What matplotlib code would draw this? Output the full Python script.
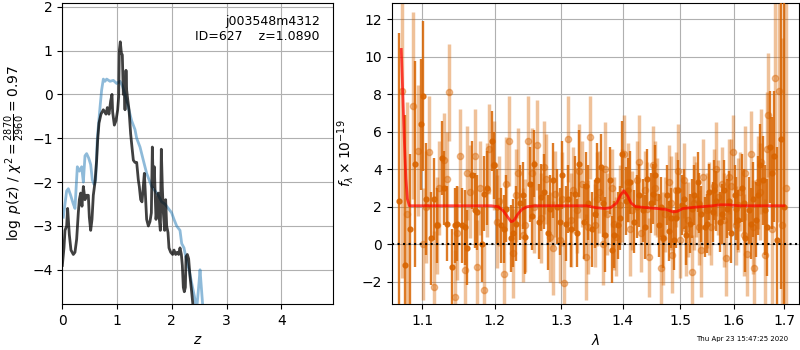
import numpy as np
import matplotlib
matplotlib.use('Agg')
import matplotlib.pyplot as plt
from matplotlib.ticker import NullLocator, NullFormatter, FixedLocator, FixedFormatter

# p(z) curves
z_prior = [0.018, 0.079, 0.110, 0.152, 0.201, 0.231, 0.274, 0.311, 0.353, 0.384,
           0.414, 0.444, 0.481, 0.518, 0.548, 0.578, 0.609, 0.639, 0.688, 0.718,
           0.749, 0.779, 0.810, 0.871, 0.932, 0.992, 1.053, 1.096, 1.145, 1.205,
           1.266, 1.327, 1.358, 1.419, 1.479, 1.540, 1.601, 1.632, 1.693, 1.753,
           1.814, 1.875, 1.936, 1.997, 2.040, 2.088, 2.149, 2.180, 2.222, 2.271,
           2.314, 2.362, 2.411, 2.454, 2.496, 2.515, 2.545, 2.575]
lnp_prior = [-2.8, -2.2, -2.15, -2.3, -2.5, -2.6, -1.65, -1.75, -1.65, -2.0,
             -1.4, -1.35, -1.45, -1.6, -1.95, -2.05, -1.95, -1.0, -0.3, 0.1,
             0.35, 0.3, 0.35, 0.3, 0.32, 0.25, 0.3, 0.2, 0.0, -0.3,
             -0.6, -0.8, -1.0, -1.2, -1.5, -1.8, -2.0, -2.1, -2.2, -2.3,
             -2.45, -2.5, -2.6, -2.7, -2.85, -3.0, -3.1, -3.4, -3.5, -3.8,
             -4.0, -4.3, -4.6, -4.9, -4.3, -4.0, -4.5, -5.0]

z_fit = [0.000, 0.030, 0.049, 0.079, 0.097, 0.128, 0.158, 0.201, 0.231, 0.262,
         0.292, 0.311, 0.335, 0.359, 0.384, 0.414, 0.444, 0.475, 0.493, 0.518,
         0.542, 0.566, 0.597, 0.627, 0.645, 0.670, 0.706, 0.749, 0.798, 0.822,
         0.852, 0.883, 0.907, 0.919, 0.950, 0.980, 1.011, 1.029, 1.041, 1.059,
         1.078, 1.096, 1.114, 1.126, 1.145, 1.163, 1.175, 1.193, 1.218, 1.248,
         1.272, 1.297, 1.327, 1.358, 1.388, 1.406, 1.431, 1.455, 1.479, 1.498,
         1.516, 1.540, 1.571, 1.601, 1.626, 1.644, 1.662, 1.680, 1.699, 1.711,
         1.735, 1.753, 1.772, 1.790, 1.808, 1.826, 1.845, 1.869, 1.887, 1.906,
         1.930, 1.948, 1.979, 2.015, 2.040, 2.070, 2.100, 2.125, 2.149, 2.174,
         2.192, 2.210, 2.228, 2.247, 2.259, 2.283, 2.307, 2.332, 2.362, 2.393]
lnp_fit = [-3.9, -3.5, -3.1, -3.0, -2.6, -3.2, -3.55, -3.65, -3.6, -3.3,
           -2.7, -2.4, -2.25, -2.55, -2.1, -2.4, -2.3, -2.3, -2.8, -3.1,
           -2.85, -2.3, -2.0, -1.5, -1.05, -0.65, -0.45, -0.35, -0.45, -0.3,
           -0.45, -0.15, 0.0, -0.4, -0.7, -0.6, -0.35, -0.05, 1.0, 1.2,
           0.95, 0.9, 0.0, 0.3, -0.35, 0.55, 0.1, -0.1, -0.35, -0.9,
           -1.2, -1.5, -1.55, -1.55, -1.95, -2.1, -2.4, -2.45, -2.1, -1.8,
           -2.25, -2.85, -3.0, -2.9, -2.7, -1.2, -2.1, -1.65, -2.4, -2.85,
           -2.55, -2.25, -2.85, -3.1, -1.25, -2.1, -2.7, -3.1, -2.4, -3.0,
           -3.15, -3.5, -3.6, -3.65, -3.55, -3.65, -3.6, -3.65, -3.5, -3.65,
           -3.9, -4.4, -4.5, -4.4, -3.7, -3.65, -3.75, -4.15, -4.5, -4.9]

# spectrum, first PA (main grid, then in-between pixels)
wave_a = [1.070, 1.077, 1.084, 1.091, 1.098, 1.105, 1.112, 1.119, 1.126, 1.133,
          1.140, 1.147, 1.154, 1.161, 1.168, 1.175, 1.182, 1.189, 1.196, 1.203,
          1.210, 1.217, 1.224, 1.231, 1.238, 1.245, 1.252, 1.259, 1.266, 1.273,
          1.280, 1.287, 1.294, 1.301, 1.308, 1.315, 1.322, 1.329, 1.336, 1.343,
          1.350, 1.357, 1.364, 1.371, 1.378, 1.385, 1.392, 1.399, 1.406, 1.413,
          1.420, 1.427, 1.434, 1.441, 1.448, 1.455, 1.462, 1.469, 1.476, 1.483,
          1.490, 1.497, 1.504, 1.511, 1.518, 1.525, 1.532, 1.539, 1.546, 1.553,
          1.560, 1.567, 1.574, 1.581, 1.588, 1.595, 1.602, 1.609, 1.616, 1.623,
          1.630, 1.637, 1.644, 1.651, 1.658, 1.665, 1.672, 1.679, 1.686, 1.693,
          1.700,
          1.1015, 1.1155, 1.1295, 1.1435, 1.1575, 1.1715, 1.1855, 1.1995, 1.2135, 1.2275,
          1.2415, 1.2555, 1.2695, 1.2835, 1.2975, 1.3115, 1.3255, 1.3395, 1.3535, 1.3675,
          1.3815, 1.3955, 1.4095, 1.4235, 1.4375, 1.4515, 1.4655, 1.4795, 1.4935, 1.5075,
          1.5215, 1.5355, 1.5495, 1.5635, 1.5775, 1.5915, 1.6055, 1.6195, 1.6335, 1.6475,
          1.6615, 1.6755]
flux_a = [2.3, -1.1, 0.8, 4.3, 6.4, 2.4, 0.3, 1.0, 4.6, 1.1,
          -1.2, 1.1, 1.0, -0.2, 3.7, 1.7, 0.0, 3.0, 5.5, 2.0,
          1.0, 1.9, 0.3, 1.1, 2.2, 0.4, 3.2, 4.3, 1.2, 2.8,
          0.6, 3.4, 2.0, 3.7, 1.1, 0.8, 2.7, 4.3, 1.2, 2.2,
          0.8, 3.4, 4.1, 0.5, 3.4, 0.5, 1.0, 4.8, 2.3, 3.3,
          1.2, 2.6, 1.8, 3.5, 2.2, 3.7, 1.0, 0.3, 2.6, 1.4,
          0.2, 2.9, 2.1, 0.5, 1.1, 2.6, 3.3, 1.6, 0.9, 2.8,
          1.7, 2.3, 1.2, 2.9, 1.9, 0.6, 2.6, 1.3, 3.0, 0.3,
          1.8, 2.4, 1.3, 4.2, 3.4, 0.9, 5.2, 4.7, 0.2, 5.6,
          2.0,
          7.9, 2.4, 3.0, 1.0, 0.9, 1.8, 2.7, 4.2, 0.8, 0.6,
          2.6, 1.5, 2.5, 1.9, 1.2, 2.4, 0.6, 3.1, 1.6, 2.2,
          -0.3, 1.4, 2.9, 2.0, 0.9, 2.7, 2.0, 0.7, 1.4, 2.4,
          1.9, 2.2, 1.1, 2.9, 1.6, 2.3, 1.9, 2.2, 1.1, 2.6,
          1.8, 3.8]
err_a = [9.0, 8.0, 4.0, 5.5, 3.5, 3.0, 2.5, 2.0, 2.0, 2.0,
         2.0, 2.0, 2.0, 2.0, 1.8, 2.0, 2.0, 2.0, 1.6, 2.0,
         2.0, 1.8, 1.8, 2.0, 2.0, 2.0, 2.0, 1.8, 2.0, 2.0,
         2.0, 2.0, 2.0, 1.8, 2.0, 2.0, 2.0, 1.8, 2.0, 2.0,
         2.0, 2.0, 1.8, 2.0, 1.8, 1.8, 1.8, 1.8, 1.8, 1.7,
         1.7, 1.7, 1.7, 1.6, 1.6, 1.6, 1.7, 1.6, 1.6, 1.6,
         1.6, 1.6, 1.6, 1.6, 1.6, 1.6, 1.6, 1.5, 1.6, 1.5,
         1.6, 1.6, 1.6, 1.6, 1.6, 1.6, 1.6, 1.6, 1.8, 1.8,
         1.8, 2.0, 2.0, 2.2, 2.4, 2.6, 3.0, 3.5, 5.0, 8.0,
         12.0,
         4.0, 2.2, 2.0, 2.0, 2.0, 2.0, 2.0, 1.8, 1.8, 1.8,
         1.8, 1.8, 1.8, 1.8, 1.8, 1.8, 1.8, 1.8, 1.8, 1.8,
         1.8, 1.7, 1.7, 1.7, 1.7, 1.6, 1.6, 1.6, 1.6, 1.6,
         1.6, 1.6, 1.6, 1.6, 1.6, 1.6, 1.7, 1.8, 1.9, 2.1,
         2.4, 3.0]

# spectrum, second PA (main grid, then in-between pixels)
wave_b = [1.0735, 1.0805, 1.0875, 1.0945, 1.1015, 1.1085, 1.1155, 1.1225, 1.1295, 1.1365,
          1.1435, 1.1505, 1.1575, 1.1645, 1.1715, 1.1785, 1.1855, 1.1925, 1.1995, 1.2065,
          1.2135, 1.2205, 1.2275, 1.2345, 1.2415, 1.2485, 1.2555, 1.2625, 1.2695, 1.2765,
          1.2835, 1.2905, 1.2975, 1.3045, 1.3115, 1.3185, 1.3255, 1.3325, 1.3395, 1.3465,
          1.3535, 1.3605, 1.3675, 1.3745, 1.3815, 1.3885, 1.3955, 1.4025, 1.4095, 1.4165,
          1.4235, 1.4305, 1.4375, 1.4445, 1.4515, 1.4585, 1.4655, 1.4725, 1.4795, 1.4865,
          1.4935, 1.5005, 1.5075, 1.5145, 1.5215, 1.5285, 1.5355, 1.5425, 1.5495, 1.5565,
          1.5635, 1.5705, 1.5775, 1.5845, 1.5915, 1.5985, 1.6055, 1.6125, 1.6195, 1.6265,
          1.6335, 1.6405, 1.6475, 1.6545, 1.6615, 1.6685, 1.6755, 1.6825, 1.6895, 1.6965,
          1.7035,
          1.105, 1.119, 1.133, 1.147, 1.161, 1.175, 1.189, 1.203, 1.217, 1.231,
          1.245, 1.259, 1.273, 1.287, 1.301, 1.315, 1.329, 1.343, 1.357, 1.371,
          1.385, 1.399, 1.413, 1.427, 1.441, 1.455, 1.469, 1.483, 1.497, 1.511,
          1.525, 1.539, 1.553, 1.567, 1.581, 1.595, 1.609, 1.623, 1.637, 1.651,
          1.665]
flux_b = [8.2, 1.6, 7.4, 5.0, 0.0, 4.9, -2.3, 3.0, 4.5, 8.1,
          -2.8, 4.7, -1.4, 2.8, 4.7, 3.0, -2.45, 5.1, 4.2, 2.3,
          -1.6, 5.5, -0.5, 3.8, 0.5, 5.5, 3.8, 5.3, 1.4, 3.5,
          0.4, 2.7, 0.2, -2.1, 5.6, 2.9, 1.8, 3.2, -0.7, 5.7,
          1.0, 2.8, 0.0, 1.6, 3.0, 0.4, 2.1, 4.8, 3.3, 1.8,
          3.4, 0.6, 2.9, -0.7, 4.2, 2.5, -1.3, 1.6, 3.3, -0.6,
          2.9, 0.2, 3.4, 1.3, -1.5, 2.4, 0.9, 3.6, 1.8, 0.9,
          3.1, 2.5, 3.2, -0.75, 3.6, 4.9, 1.0, 2.8, 0.5, -0.55,
          4.8, -1.3, 3.3, 4.4, -0.6, 6.9, 0.8, 8.9, 8.2, 1.0,
          3.0,
          2.0, 1.0, 3.5, 0.6, 3.8, -1.2, 2.9, 1.2, 3.2, 2.6,
          1.0, 2.0, 4.1, -0.2, 2.4, 1.3, 3.9, 0.9, 2.4, 4.0,
          1.1, 2.6, 0.8, 4.4, 1.9, 3.0, 0.3, 2.2, 3.9, 0.8,
          2.2, -0.3, 1.9, 4.0, 1.3, 3.1, 2.1, 3.8, 0.9, 2.8,
          5.1]
err_b = [10.0, 6.0, 5.0, 3.5, 3.0, 3.0, 3.0, 2.5, 2.5, 2.6,
         2.5, 2.5, 2.5, 2.5, 2.5, 2.5, 2.5, 2.4, 2.4, 2.4,
         2.4, 2.4, 2.4, 2.4, 2.5, 2.4, 2.4, 2.4, 2.4, 2.4,
         2.4, 2.3, 2.3, 2.3, 2.3, 2.3, 2.3, 2.3, 2.3, 2.2,
         2.2, 2.2, 2.2, 2.2, 2.1, 2.1, 2.1, 2.1, 2.1, 2.1,
         2.1, 2.1, 2.1, 2.1, 2.1, 2.1, 2.1, 2.0, 2.0, 2.0,
         2.0, 2.0, 2.0, 2.0, 2.0, 2.0, 2.0, 2.0, 2.0, 2.0,
         2.0, 2.0, 2.0, 2.0, 2.0, 2.0, 2.1, 2.1, 2.2, 2.2,
         2.3, 2.4, 2.5, 2.8, 3.0, 3.3, 4.0, 5.0, 7.0, 10.0,
         12.0,
         3.0, 2.6, 2.5, 2.5, 2.5, 2.5, 2.5, 2.5, 2.5, 2.5,
         2.5, 2.5, 2.5, 2.5, 2.5, 2.5, 2.5, 2.5, 2.5, 2.5,
         2.5, 2.5, 2.5, 2.5, 2.5, 2.5, 2.5, 2.5, 2.5, 2.5,
         2.5, 2.5, 2.5, 2.5, 2.5, 2.5, 2.5, 2.5, 2.5, 2.6,
         3.0]

# best-fit model
wave_model = [1.0725, 1.0745, 1.0765, 1.0785, 1.0805, 1.083, 1.10, 1.15, 1.195, 1.205,
              1.212, 1.218, 1.224, 1.228, 1.234, 1.240, 1.248, 1.26, 1.30, 1.34,
              1.355, 1.37, 1.38, 1.39, 1.396, 1.402, 1.408, 1.414, 1.422, 1.44,
              1.46, 1.475, 1.488, 1.495, 1.505, 1.52, 1.54, 1.56, 1.575, 1.59,
              1.61, 1.65, 1.70]
flux_model = [10.4, 8.0, 5.5, 3.5, 2.4, 2.05, 2.05, 2.05, 2.05, 2.0,
              1.8, 1.5, 1.2, 1.25, 1.6, 1.85, 2.0, 2.05, 2.05, 2.05,
              1.95, 1.9, 1.95, 2.2, 2.6, 2.85, 2.6, 2.2, 2.0, 1.95,
              1.9, 1.85, 1.72, 1.75, 1.9, 1.95, 2.0, 2.05, 2.1, 2.1,
              2.05, 2.05, 2.05]

wave_ticks = [1.1, 1.2, 1.3, 1.4, 1.5, 1.6, 1.7]

fig = plt.figure(figsize=(8, 3.5), dpi=100)

# p(z) panel
ax = fig.add_axes([0.0779, 0.1314, 0.3388, 0.86])
ax.plot(z_prior, lnp_prior, color='#1f77b4', alpha=0.5, lw=2)
ax.plot(z_fit, lnp_fit, color='k', alpha=0.75, lw=2)
ax.set_xlim(0, 4.95)
ax.set_ylim(-4.78, 2.085)
ax.set_xticks([0, 1, 2, 3, 4])
ax.set_yticks([-4, -3, -2, -1, 0, 1, 2])
ax.grid(True)
ax.set_xlabel('$z$')
ax.set_ylabel(r'$\log\ p(z)$ / $\chi^2=\frac{2870}{2960}=0.97$')
ax.text(0.95, 0.96, 'j003548m4312\nID=627    z=1.0890', ha='right', va='top',
        fontsize=9, transform=ax.transAxes)

# spectrum panel
ax = fig.add_axes([0.4896, 0.1314, 0.5091, 0.86])
orange = '#d86400'
ax.errorbar(wave_b, flux_b, yerr=err_b, color=orange, alpha=0.4, marker='o', ms=4.5,
            linestyle='None', elinewidth=2.5, zorder=2)
ax.errorbar(wave_a, flux_a, yerr=err_a, color=orange, alpha=0.85, marker='o', ms=3.5,
            linestyle='None', elinewidth=1.7, zorder=3)
ax.plot(wave_model, flux_model, color='r', alpha=0.7, lw=2, zorder=5)
ax.axhline(0, color='k', linestyle=':', lw=1.5, zorder=4)
ax.set_xscale('log')
ax.set_xlim(1.0602, 1.7309)
ax.set_ylim(-3.2, 12.88)
ax.xaxis.set_major_locator(FixedLocator(wave_ticks))
ax.xaxis.set_major_formatter(FixedFormatter(['%.1f' % w for w in wave_ticks]))
ax.xaxis.set_minor_locator(NullLocator())
ax.xaxis.set_minor_formatter(NullFormatter())
ax.set_yticks([-2, 0, 2, 4, 6, 8, 10, 12])
ax.grid(True)
ax.set_xlabel(r'$\lambda$')
ax.set_ylabel(r'$f_\lambda\times10^{-19}$')

fig.text(0.985, 0.031, 'Thu Apr 23 15:47:25 2020', ha='right', va='center', fontsize=5)

fig.savefig('out.png', dpi=100)
